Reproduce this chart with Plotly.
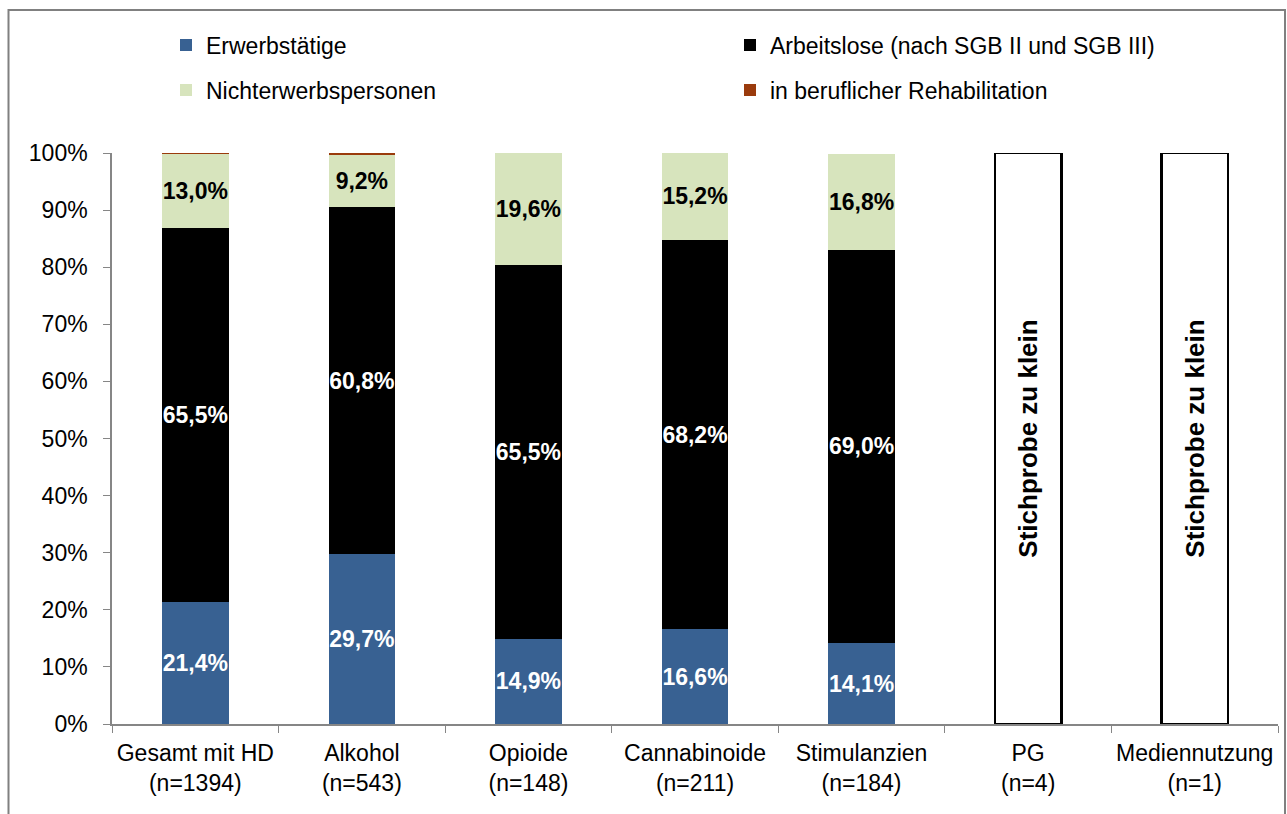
import plotly.graph_objects as go

categories = ["Gesamt mit HD<br>(n=1394)", "Alkohol<br>(n=543)", "Opioide<br>(n=148)",
              "Cannabinoide<br>(n=211)", "Stimulanzien<br>(n=184)", "PG<br>(n=4)",
              "Mediennutzung<br>(n=1)"]

erwerbstaetige = [21.4, 29.7, 14.9, 16.6, 14.1, None, None]
arbeitslose = [65.5, 60.8, 65.5, 68.2, 69.0, None, None]
nichterwerbspersonen = [13.0, 9.2, 19.6, 15.2, 16.8, None, None]
rehabilitation = [0.1, 0.3, 0.0, 0.0, 0.0, None, None]
zu_klein = [None, None, None, None, None, 100, 100]

FONT = "Arial, Liberation Sans, sans-serif"
W, H = 1287, 814
L, R, T, B = 112, 9, 153, 90


def fmt(vals):
    return ["" if v is None else f"{v:.1f}%".replace(".", ",") for v in vals]


pw = W - L - R
ph = H - T - B


def px_x(p):
    return (p - L) / pw


def px_y(p):
    return (H - B - p) / ph


fig = go.Figure()

# name, values, fill, label colour, labelled, legend id, legend position (px)
series = [
    ("Erwerbstätige", erwerbstaetige, "#386192", "white", True, "legend", (166, 45)),
    ("Arbeitslose (nach SGB II und SGB III)", arbeitslose, "#000000", "white", True, "legend2", (730, 45)),
    ("Nichterwerbspersonen", nichterwerbspersonen, "#D7E4BD", "black", True, "legend3", (166, 90)),
    ("in beruflicher Rehabilitation", rehabilitation, "#9A3B0C", "black", False, "legend4", (730, 90)),
]

legends = {}
for name, vals, color, tcolor, labelled, leg, (lx, ly) in series:
    fig.add_trace(go.Bar(
        name=name, x=categories, y=vals,
        marker=dict(color=color, line=dict(width=0)),
        text=fmt(vals) if labelled else None,
        textposition="inside" if labelled else "none",
        insidetextanchor="middle", textangle=0,
        constraintext="none",
        textfont=dict(family=FONT, size=23, color=tcolor, weight="bold"),
        width=0.4, legend=leg, hoverinfo="skip",
    ))
    legends[leg] = dict(
        x=px_x(lx), y=px_y(ly), xanchor="left", yanchor="middle",
        font=dict(family=FONT, size=23, color="black"),
        bgcolor="rgba(0,0,0,0)", borderwidth=0,
        itemclick=False, itemdoubleclick=False,
    )

fig.add_trace(go.Bar(
    name="Stichprobe zu klein", x=categories, y=zu_klein,
    marker=dict(color="white", line=dict(color="black", width=2.5)),
    text=["" if v is None else "Stichprobe zu klein" for v in zu_klein],
    textposition="inside", insidetextanchor="middle", textangle=-90,
    constraintext="none",
    textfont=dict(family=FONT, size=26, color="black", weight="bold"),
    width=0.4, showlegend=False, hoverinfo="skip",
))

fig.update_layout(
    width=W, height=H,
    margin=dict(l=L, r=R, t=T, b=B),
    barmode="stack",
    plot_bgcolor="white", paper_bgcolor="white",
    font=dict(family=FONT, size=23, color="black"),
    **legends,
    xaxis=dict(
        showline=True, linecolor="#868686", linewidth=1.5,
        ticks="outside", tickson="boundaries", ticklen=7, tickcolor="#868686",
        ticklabelstandoff=8,
        tickfont=dict(family=FONT, size=23, color="black"),
        showgrid=False,
    ),
    yaxis=dict(
        range=[0, 100], tickvals=list(range(0, 101, 10)),
        ticktext=[f"{v}%" for v in range(0, 101, 10)],
        showline=True, linecolor="#868686", linewidth=1.5,
        ticks="outside", ticklen=7, tickcolor="#868686",
        ticklabelstandoff=11,
        tickfont=dict(family=FONT, size=23, color="black"),
        showgrid=False, zeroline=False,
    ),
    shapes=[dict(
        type="rect", xref="paper", yref="paper",
        x0=px_x(8.5), x1=px_x(1285), y0=px_y(840), y1=px_y(10),
        line=dict(color="#808080", width=2), fillcolor="rgba(0,0,0,0)",
        layer="below",
    )],
)

fig.write_html("out.html")
